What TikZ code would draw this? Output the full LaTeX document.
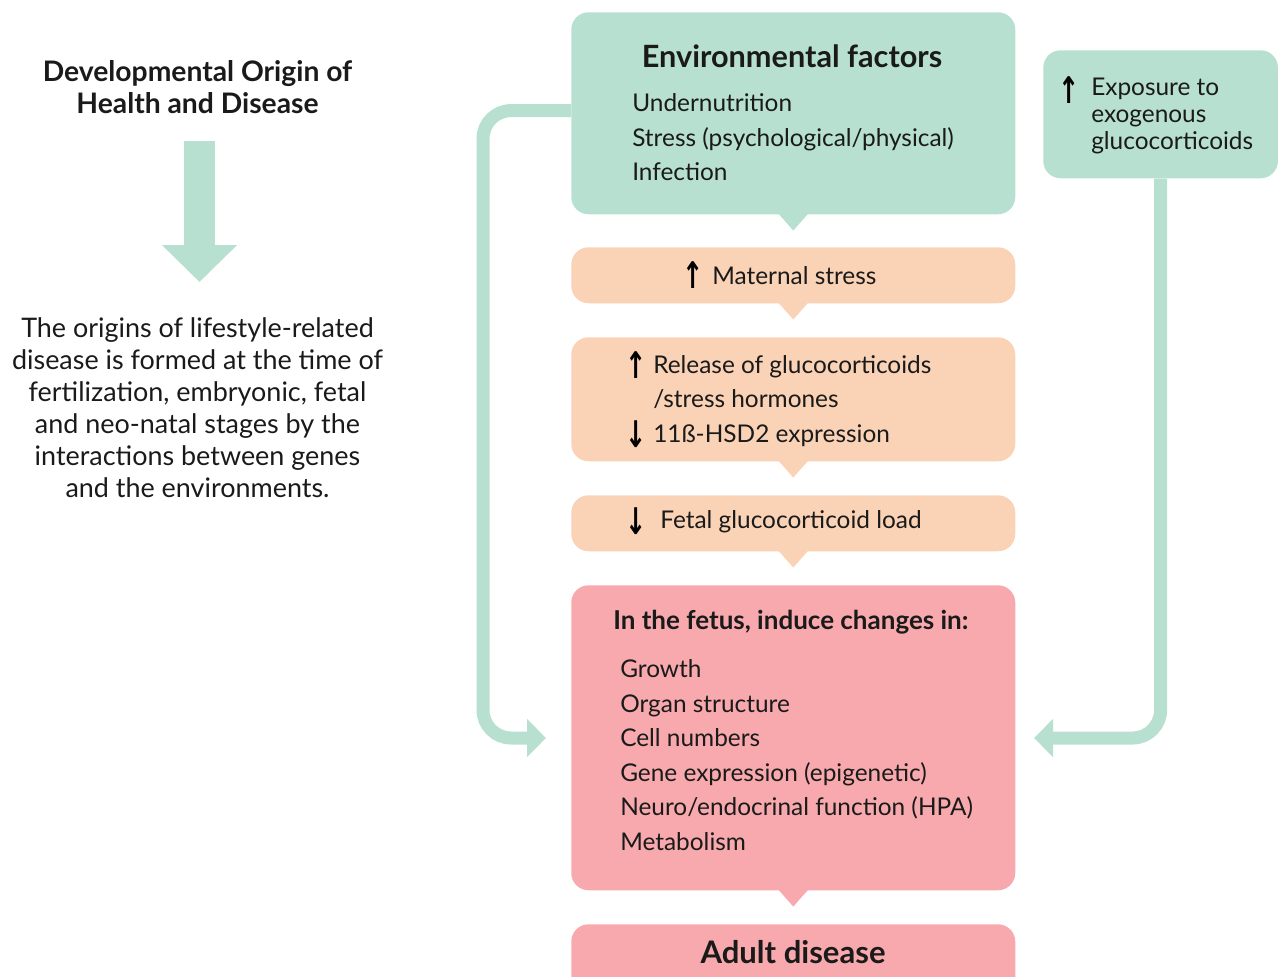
\documentclass[tikz,border=0pt]{standalone}
\usepackage{fontspec}
\usepackage{graphicx}
\setmainfont{Lato}
\newfontfamily\arrfont{DejaVu Sans}
\usetikzlibrary{positioning, arrows.meta, calc}
\definecolor{mint}{HTML}{B7E0D1}
\definecolor{peach}{HTML}{FAD2B6}
\definecolor{rose}{HTML}{F7A9AD}
\definecolor{ink}{HTML}{1A1A1A}
\newcommand{\tallarr}[1]{\scalebox{1}[1.45]{#1}}

\tikzset{
  box/.style={rounded corners=13pt, inner sep=0pt, minimum width=333pt, anchor=north west},
  txt/.style={font=\fontsize{18.3}{25.9}\selectfont, text=ink, inner sep=0pt, align=left, anchor=west},
  head/.style={font=\fontsize{23}{24}\selectfont\bfseries, text=ink, inner sep=0pt},
  arr/.style={font=\fontsize{19}{22}\selectfont\arrfont\bfseries, text=black, inner sep=0pt},
  conn/.style={draw=mint, line width=9.75pt, rounded corners=21pt, -{Triangle[length=14.25pt, width=27.75pt]}},
}

\begin{document}
\begin{tikzpicture}[x=0.75pt, y=-0.75pt]
	\useasboundingbox (0,0) rectangle (1278,976);
	% left column
	\node[head, align=center, font=\fontsize{21.2}{24}\selectfont\bfseries] at (197.5,87) (title) {Developmental Origin of\\Health and Disease};
	\coordinate (dtop) at (199.5,141);
	\coordinate (dtip) at (199.5,282);
	\draw[draw=mint, line width=23.25pt, -{Triangle[length=27.75pt, width=54.75pt]}] (dtop) -- (dtip);
	\node[txt, anchor=center, align=center, font=\fontsize{20.2}{24}\selectfont] at (197.5,407.5) (para) {The origins of lifestyle-related\\disease is formed at the time of\\fertilization, embryonic, fetal\\and neo-natal stages by the\\interactions between genes\\and the environments.};

	% boxes
	\node[box, fill=mint, minimum height=151.5pt] at (571,12) (env) {};
	\node[box, fill=peach, minimum height=42pt] at (571,247) (mat) {};
	\node[box, fill=peach, minimum height=93pt] at (571,337) (rel) {};
	\node[box, fill=peach, minimum height=42pt] at (571,495) (fet) {};
	\node[box, fill=rose, minimum height=228.75pt] at (571,585) (fetus) {};
	\node[box, fill=rose, minimum height=60pt] at (571,924) (adult) {};
	\node[box, fill=mint, minimum width=176pt, minimum height=96pt] at (1043,50) (expo) {};
	\foreach \b/\c in {env/mint, mat/peach, rel/peach, fet/peach, fetus/rose}
		\fill[\c] ($(\b.south)+(-15,-1)$) -- ($(\b.south)+(15,-1)$) -- ($(\b.south)+(0,16)$) -- cycle;

	% texts
	\node[head] at (792,56) (envhead) {Environmental factors};
	\node[txt] at (632,137.5) (envlist) {Undernutrition\\Stress (psychological/physical)\\Infection};
	\node[arr] at (693,275) (matup) {\tallarr{↑}};
	\node[txt] at (712,276) (mattext) {Maternal stress};
	\node[arr] at (636,365) (relup) {\tallarr{↑}};
	\node[arr] at (636,434) (reldown) {\tallarr{↓}};
	\node[txt] at (653,401) (reltext) {Release of glucocorticoids\\/stress hormones\\11ß-HSD2 expression};
	\node[arr] at (636,521) (fetdown) {\tallarr{↓}};
	\node[txt] at (660,522) (fettext) {Fetal glucocorticoid load};
	\node[txt, font=\fontsize{19.5}{24}\selectfont\bfseries] at (613,622) (fetushead) {In the fetus, induce changes in:};
	\node[txt] at (620,755) (fetuslist) {Growth\\Organ structure\\Cell numbers\\Gene expression (epigenetic)\\Neuro/endocrinal function (HPA)\\Metabolism};
	\node[head, font=\fontsize{23.3}{24}\selectfont\bfseries] at (793,952) (adulttext) {Adult disease};
	\node[arr] at (1069,90) (expoup) {\tallarr{↑}};
	\node[txt, font=\fontsize{18.3}{19.9}\selectfont] at (1091,116) (expotext) {Exposure to\\exogenous\\glucocorticoids};

	% connectors
	\coordinate (ltip) at (546,738);
	\coordinate (rtip) at (1034,738);
	\draw[conn] ([yshift=2pt]env.west) -- ++(-88,0) |- (ltip);
	\draw[conn] (expo.south) |- (rtip);
\end{tikzpicture}
\end{document}
